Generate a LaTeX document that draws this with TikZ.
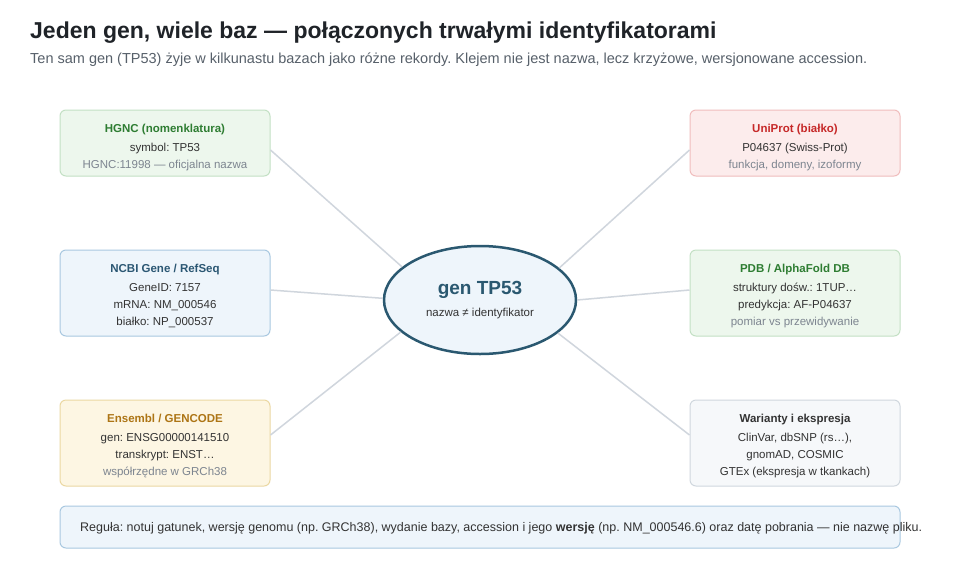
\documentclass[tikz,border=0pt]{standalone}
\usepackage{fontspec}
\setmainfont{Liberation Sans}
\frenchspacing
\usetikzlibrary{shapes.geometric}
\definecolor{titlec}{HTML}{1F2328}
\definecolor{subc}{HTML}{57606A}
\definecolor{txt}{HTML}{333333}
\definecolor{muted}{HTML}{7D8590}
\definecolor{gfill}{HTML}{EDF7ED}
\definecolor{gdraw}{HTML}{C3E0C4}
\definecolor{gtitle}{HTML}{2E7D32}
\definecolor{bfill}{HTML}{EEF5FB}
\definecolor{bdraw}{HTML}{A9C8E0}
\definecolor{btitle}{HTML}{2B5773}
\definecolor{yfill}{HTML}{FDF6E3}
\definecolor{ydraw}{HTML}{EBD8A2}
\definecolor{ytitle}{HTML}{AD7515}
\definecolor{rfill}{HTML}{FCECEC}
\definecolor{rdraw}{HTML}{F0BDBD}
\definecolor{rtitle}{HTML}{C62828}
\definecolor{wfill}{HTML}{F6F8FA}
\definecolor{wdraw}{HTML}{D0D7DE}
\definecolor{wtitle}{HTML}{333333}
\definecolor{ell}{HTML}{2A5870}
\definecolor{conn}{HTML}{D0D6DD}
\tikzset{
  dbbox/.style={draw, rounded corners=6pt, line width=1pt, minimum width=210pt, inner sep=0pt},
  btitle/.style={anchor=base, inner sep=0pt, font=\bfseries\fontsize{11.5}{13}\selectfont},
  bline/.style={anchor=base, inner sep=0pt, text=txt, font=\fontsize{11.5}{13}\selectfont},
  bmuted/.style={anchor=base, inner sep=0pt, text=muted, font=\fontsize{11.5}{13}\selectfont},
  link/.style={draw=conn, line width=1.5pt},
}
\begin{document}
\begin{tikzpicture}[x=1pt,y=-1pt]
\useasboundingbox (0,0) rectangle (960,560);
\fill[white] (0,0) rectangle (960,560);

\node[anchor=base west, inner sep=0pt, text=titlec, font=\bfseries\fontsize{23}{28}\selectfont] (title) at (30,38) {Jeden gen, wiele baz — połączonych trwałymi identyfikatorami};
\node[anchor=base west, inner sep=0pt, text=subc, font=\fontsize{14.5}{18}\selectfont] (subtitle) at (30,63) {Ten sam gen (TP53) żyje w kilkunastu bazach jako różne rekordy. Klejem nie jest nazwa, lecz krzyżowe, wersjonowane accession.};

% boxes
\node[dbbox, fill=gfill, draw=gdraw, minimum height=66pt] (hgnc) at (165,143) {};
\node[dbbox, fill=bfill, draw=bdraw, minimum height=86pt] (ncbi) at (165,293) {};
\node[dbbox, fill=yfill, draw=ydraw, minimum height=86pt] (ens) at (165,443) {};
\node[dbbox, fill=rfill, draw=rdraw, minimum height=66pt] (uni) at (795,143) {};
\node[dbbox, fill=gfill, draw=gdraw, minimum height=86pt] (pdb) at (795,293) {};
\node[dbbox, fill=wfill, draw=wdraw, minimum height=86pt] (war) at (795,443) {};

% center ellipse
\node[ellipse, draw=ell, fill=bfill, line width=2.5pt, minimum width=192pt, minimum height=108pt, inner sep=0pt] (gene) at (480,300) {};
\node[anchor=base, inner sep=0pt, text=ell, font=\bfseries\fontsize{19}{22}\selectfont] (gene-t) at (480,294) {gen TP53};
\node[anchor=base, inner sep=0pt, text=txt, font=\fontsize{11.5}{13}\selectfont] (gene-s) at (480,316) {nazwa ≠ identyfikator};

% connectors
\draw[link] ([yshift=-7pt]hgnc.east) -- (gene.157.6);
\draw[link] ([yshift=3pt]ncbi.east) -- (gene.179);
\draw[link] ([yshift=8pt]ens.east) -- (gene.202.4);
\draw[link] ([yshift=-7pt]uni.west) -- (gene.22.9);
\draw[link] ([yshift=3pt]pdb.west) -- (gene.0);
\draw[link] ([yshift=8pt]war.west) -- (gene.-23);

% HGNC
\node[btitle, text=gtitle] (hgnc-t) at (165,132) {HGNC (nomenklatura)};
\node[bline] (hgnc-1) at (165,151) {symbol: TP53};
\node[bmuted] (hgnc-2) at (165,168) {HGNC:11998 — oficjalna nazwa};
% NCBI
\node[btitle, text=btitle] (ncbi-t) at (165,272) {NCBI Gene / RefSeq};
\node[bline] (ncbi-1) at (165,291) {GeneID: 7157};
\node[bline] (ncbi-2) at (165,308) {mRNA: NM\_000546};
\node[bline] (ncbi-3) at (165,325) {białko: NP\_000537};
% Ensembl
\node[btitle, text=ytitle] (ens-t) at (165,422) {Ensembl / GENCODE};
\node[bline] (ens-1) at (165,441) {gen: ENSG00000141510};
\node[bline] (ens-2) at (165,458) {transkrypt: ENST…};
\node[bmuted] (ens-3) at (165,475) {współrzędne w GRCh38};
% UniProt
\node[btitle, text=rtitle] (uni-t) at (795,132) {UniProt (białko)};
\node[bline] (uni-1) at (795,151) {P04637 (Swiss-Prot)};
\node[bmuted] (uni-2) at (795,168) {funkcja, domeny, izoformy};
% PDB
\node[btitle, text=gtitle] (pdb-t) at (795,272) {PDB / AlphaFold DB};
\node[bline] (pdb-1) at (795,291) {struktury dośw.: 1TUP…};
\node[bline] (pdb-2) at (795,308) {predykcja: AF-P04637};
\node[bmuted] (pdb-3) at (795,325) {pomiar vs przewidywanie};
% Warianty
\node[btitle, text=wtitle] (war-t) at (795,422) {Warianty i ekspresja};
\node[bline] (war-1) at (795,441) {ClinVar, dbSNP (rs…),};
\node[bline] (war-2) at (795,458) {gnomAD, COSMIC};
\node[bline] (war-3) at (795,475) {GTEx (ekspresja w tkankach)};

% bottom rule
\node[draw=bdraw, fill=bfill, rounded corners=6pt, line width=1pt, minimum width=840pt, minimum height=42pt, inner sep=0pt] (rule) at (480,527) {};
\node[anchor=base west, inner sep=0pt, text=txt, font=\fontsize{12.5}{14}\selectfont] (rule-t) at (80,531) {Reguła: notuj gatunek, wersję genomu (np. GRCh38), wydanie bazy, accession i jego \textbf{wersję} (np. NM\_000546.6) oraz datę pobrania — nie nazwę pliku.};
\end{tikzpicture}
\end{document}
